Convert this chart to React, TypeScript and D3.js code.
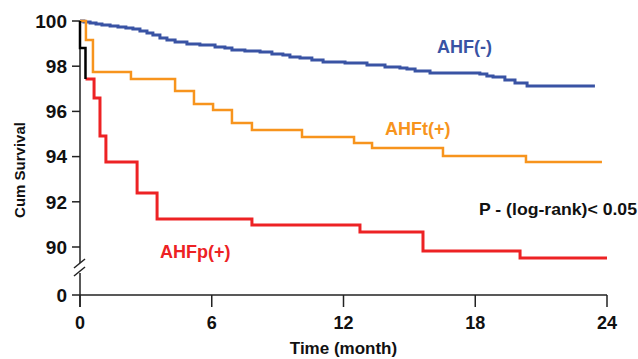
import * as React from "react";
import * as d3 from "d3";

// Kaplan-Meier steps: [month, cumulative survival %]
const ahfNeg: [number, number][] = [
  [0, 100], [0.18, 99.96], [0.46, 99.91], [0.73, 99.87], [1.0, 99.82], [1.37, 99.78],
  [1.73, 99.73], [2.09, 99.69], [2.41, 99.65], [2.73, 99.56], [3.05, 99.47], [3.32, 99.38],
  [3.64, 99.25], [3.96, 99.16], [4.33, 99.07], [4.87, 98.98], [5.46, 98.94], [6.15, 98.85],
  [6.6, 98.81], [6.92, 98.72], [7.51, 98.67], [8.2, 98.63], [8.74, 98.54], [9.24, 98.5],
  [9.56, 98.41], [10.02, 98.36], [10.56, 98.27], [11.07, 98.19], [12.07, 98.14], [13.07, 98.05],
  [13.89, 97.96], [14.57, 97.92], [14.89, 97.88], [15.26, 97.79], [15.94, 97.7], [17.76, 97.7],
  [18.21, 97.65], [18.53, 97.57], [18.81, 97.52], [19.35, 97.39], [19.81, 97.26], [20.36, 97.12],
  [23.45, 97.12],
];

const ahfT: [number, number][] = [
  [0, 100], [0.27, 99.16], [0.59, 97.74], [2.32, 97.43], [4.33, 96.9], [5.19, 96.33],
  [6.06, 96.06], [6.92, 95.49], [7.83, 95.18], [10.11, 94.87], [12.48, 94.6], [13.3, 94.38],
  [16.53, 94.03], [20.31, 93.76], [23.77, 93.76],
];

const ahfPStart: [number, number][] = [
  [0, 100], [0, 98.81], [0.25, 97.43],
];

const ahfP: [number, number][] = [
  [0.25, 97.43], [0.64, 96.59], [0.91, 94.91], [1.18, 93.76], [2.6, 92.39], [3.51, 91.24],
  [7.83, 90.97], [12.75, 90.66], [15.62, 89.82], [20.04, 89.51], [24, 89.51],
];

const xTicks = [0, 6, 12, 18, 24];
const yTicks = [90, 92, 94, 96, 98, 100];

const FONT = "'Liberation Sans', Arial, Helvetica, sans-serif";

export default function App() {
  const x = d3.scaleLinear().domain([0, 24]).range([80, 607]);
  const y = d3.scaleLinear().domain([90, 100]).range([247, 21]);
  const zeroY = 295;

  const line = d3
    .line<[number, number]>()
    .x((d) => x(d[0]))
    .y((d) => y(d[1]))
    .curve(d3.curveStepAfter);

  const axisColor = "#222";

  return (
    <svg
      width={638}
      height={359}
      style={{ position: "absolute", left: 0, top: 0, background: "#fff" }}
      fontFamily={FONT}
      fontWeight="bold"
    >
      {/* y axis with break */}
      <line x1={80} x2={80} y1={21} y2={263} stroke={axisColor} strokeWidth={1.5} />
      <line x1={80} x2={80} y1={273} y2={307} stroke={axisColor} strokeWidth={1.5} />
      <line x1={74} y1={268} x2={85} y2={259} stroke={axisColor} strokeWidth={1.5} />
      <line x1={74} y1={276} x2={85} y2={267} stroke={axisColor} strokeWidth={1.5} />
      {yTicks.map((t) => (
        <g key={t}>
          <line x1={72} x2={80} y1={y(t)} y2={y(t)} stroke={axisColor} strokeWidth={1.5} />
          <text x={67} y={y(t)} dy="0.36em" textAnchor="end" fontSize={19} fill="#111">
            {t}
          </text>
        </g>
      ))}
      <text x={67} y={zeroY} dy="0.36em" textAnchor="end" fontSize={19} fill="#111">
        0
      </text>

      {/* x axis */}
      <line x1={72} x2={x(24)} y1={zeroY} y2={zeroY} stroke={axisColor} strokeWidth={1.5} />
      {xTicks.map((t) => (
        <g key={t}>
          <line x1={x(t)} x2={x(t)} y1={zeroY} y2={307} stroke={axisColor} strokeWidth={1.5} />
          <text x={x(t)} y={329} textAnchor="middle" fontSize={18} fill="#111">
            {t}
          </text>
        </g>
      ))}
      <text x={x(12)} y={354} textAnchor="middle" fontSize={17} fill="#111">
        Time (month)
      </text>
      <text
        transform="translate(25,170) rotate(-90)"
        textAnchor="middle"
        fontSize={15}
        fill="#111"
      >
        Cum Survival
      </text>

      {/* curves */}
      <path d={line(ahfNeg) ?? ""} fill="none" stroke="#3953a4" strokeWidth={3} />
      <path d={line(ahfT) ?? ""} fill="none" stroke="#f7941d" strokeWidth={2.5} />
      <path d={line(ahfP) ?? ""} fill="none" stroke="#ed2224" strokeWidth={3} />
      <path d={line(ahfPStart) ?? ""} fill="none" stroke="#000" strokeWidth={2.5} />

      {/* labels */}
      <text x={437} y={53} fontSize={18} fill="#3953a4">AHF(-)</text>
      <text x={385} y={135} fontSize={18} fill="#f7941d">AHFt(+)</text>
      <text x={160} y={258} fontSize={18} fill="#ed2224">AHFp(+)</text>
      <text x={479} y={215} fontSize={17} fill="#111" textLength={158} lengthAdjust="spacingAndGlyphs">
        P - (log-rank)&lt; 0.05
      </text>
    </svg>
  );
}
